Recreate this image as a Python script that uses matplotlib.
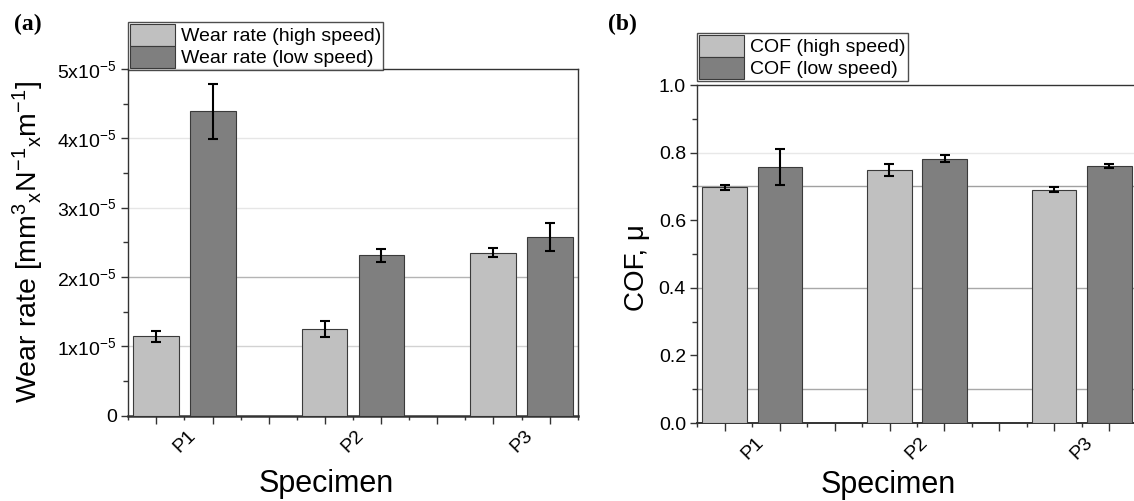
import numpy as np
import matplotlib
matplotlib.use('Agg')
from matplotlib import pyplot as plt
from matplotlib.patches import Patch
from matplotlib.ticker import FuncFormatter

plt.rcParams['font.family'] = ['Liberation Sans', 'DejaVu Sans']
plt.rcParams['mathtext.fontset'] = 'custom'
plt.rcParams['mathtext.rm'] = 'Liberation Sans'
plt.rcParams['mathtext.it'] = 'Liberation Sans:italic'
plt.rcParams['mathtext.default'] = 'regular'

# data
specimens = ['P1', 'P2', 'P3']
wear_high = [1.14e-5, 1.25e-5, 2.35e-5]
wear_high_err = [0.08e-5, 0.12e-5, 0.065e-5]
wear_low = [4.39e-5, 2.31e-5, 2.58e-5]
wear_low_err = [0.40e-5, 0.09e-5, 0.20e-5]
cof_high = [0.697, 0.748, 0.690]
cof_high_err = [0.007, 0.017, 0.007]
cof_low = [0.757, 0.782, 0.759]
cof_low_err = [0.053, 0.011, 0.006]

light = '#c0c0c0'
dark = '#7f7f7f'
edge = '#3a3a3a'

x = np.arange(len(specimens))
w = 0.27
off = 0.168

W, H = 1134, 501
fig = plt.figure(figsize=(W / 100, H / 100), dpi=100)
ax1 = fig.add_axes([128 / W, 1 - 415.5 / H, 450 / W, 346.5 / H])
ax2 = fig.add_axes([697 / W, 1 - 423 / H, 440 / W, 338 / H])


def draw_bars(ax, hi, hi_err, lo, lo_err):
    ekw = dict(ecolor='black', elinewidth=1.5, capsize=3.5, capthick=1.5)
    ax.bar(x - off, hi, w, color=light, edgecolor=edge, linewidth=0.8,
           yerr=hi_err, error_kw=ekw, zorder=3)
    ax.bar(x + off, lo, w, color=dark, edgecolor=edge, linewidth=0.8,
           yerr=lo_err, error_kw=ekw, zorder=3)


def style_axes(ax):
    ax.set_xlim(-0.335, 2.335)
    majors = [k / 3 + 1 / 6 for k in range(-1, 7)]
    minors = [k / 3 for k in range(-1, 8)]
    ax.set_xticks(majors)
    ax.set_xticklabels([''] * len(majors))
    ax.set_xticks(minors, minor=True)
    labs = []
    for m in minors:
        if abs(m - round(m)) < 1e-6 and 0 <= round(m) < len(specimens):
            labs.append(specimens[int(round(m))])
        else:
            labs.append('')
    ax.set_xticklabels(labs, minor=True, rotation=45, ha='center', fontsize=14)
    ax.tick_params(axis='x', which='major', direction='out', length=5.8, width=1.0, color='#333333')
    ax.tick_params(axis='x', which='minor', direction='out', length=3.2, width=1.0,
                   color='#333333', pad=5)
    ax.tick_params(axis='y', which='major', direction='out', length=5, width=1.0,
                   color='#333333', labelsize=14, pad=3)
    ax.tick_params(axis='y', which='minor', direction='out', length=3.5, width=1.0, color='#333333')
    for s in ax.spines.values():
        s.set_color('#333333')
        s.set_linewidth(1.0)


draw_bars(ax1, wear_high, wear_high_err, wear_low, wear_low_err)
draw_bars(ax2, cof_high, cof_high_err, cof_low, cof_low_err)
style_axes(ax1)
style_axes(ax2)

# panel a
ax1.set_ylim(0, 5e-5)
ax1.set_yticks(np.arange(0, 5.01e-5, 1e-5))
ax1.set_yticks(np.arange(0.5e-5, 5e-5, 1e-5), minor=True)
ax1.yaxis.set_major_formatter(FuncFormatter(
    lambda v, p: '0' if v == 0 else '%dx10$^{-5}$' % round(v / 1e-5)))
ax1.spines['bottom'].set_linewidth(1.8)
for yv, c in zip([1e-5, 2e-5, 3e-5, 4e-5], ['#d2d2d2', '#b4b4b4', '#e6e6e6', '#e6e6e6']):
    ax1.axhline(yv, color=c, lw=1.0, zorder=1)
ax1.set_ylabel('Wear rate [mm$^3$$_x$N$^{-1}$$_x$m$^{-1}$]', fontsize=20.5, va='center')
ax1.yaxis.set_label_coords(-0.222, 0.5)
ax1.set_xlabel('Specimen', fontsize=22, va='top')
ax1.xaxis.set_label_coords((326 - 128) / 450, -0.154)

# panel b
ax2.set_ylim(0, 1.0)
ax2.set_yticks(np.arange(0, 1.01, 0.2))
ax2.set_yticks(np.arange(0.1, 1.0, 0.2), minor=True)
ax2.yaxis.set_major_formatter(FuncFormatter(lambda v, p: '%.1f' % v))
ax2.spines['bottom'].set_linewidth(1.4)
for yv, c in zip([0.1, 0.4, 0.7, 0.8], ['#a8a8a8', '#a8a8a8', '#a0a0a0', '#e8e8e8']):
    ax2.axhline(yv, color=c, lw=1.0, zorder=1)
ax2.set_ylabel('COF, μ', fontsize=20, va='center')
ax2.yaxis.set_label_coords(-0.136, 0.46)
ax2.set_xlabel('Specimen', fontsize=22, va='top')
ax2.xaxis.set_label_coords((888 - 697) / 440, -0.14)

# legends
def add_legend(ax, labels, x0, y0):
    handles = [Patch(facecolor=light, edgecolor=edge, linewidth=0.8),
               Patch(facecolor=dark, edgecolor=edge, linewidth=0.8)]
    leg = ax.legend(handles, labels, loc='lower left', bbox_to_anchor=(x0 / W, 1 - y0 / H),
                    bbox_transform=fig.transFigure, fontsize=14, frameon=True,
                    fancybox=False, borderpad=0.12, labelspacing=0.0, handlelength=2.3,
                    handleheight=1.35, handletextpad=0.3, borderaxespad=0.0)
    leg.get_frame().set_edgecolor('#222222')
    leg.get_frame().set_linewidth(1.0)
    return leg

add_legend(ax1, ['Wear rate (high speed)', 'Wear rate (low speed)'], 128, 70)
add_legend(ax2, ['COF (high speed)', 'COF (low speed)'], 697, 81)

fig.text(14 / W, 1 - 24 / H, '(a)', family=['Liberation Serif', 'DejaVu Serif'],
         fontweight='bold', fontsize=17, va='center', ha='left')
fig.text(608 / W, 1 - 24 / H, '(b)', family=['Liberation Serif', 'DejaVu Serif'],
         fontweight='bold', fontsize=17, va='center', ha='left')

fig.savefig('out.png', dpi=100)
